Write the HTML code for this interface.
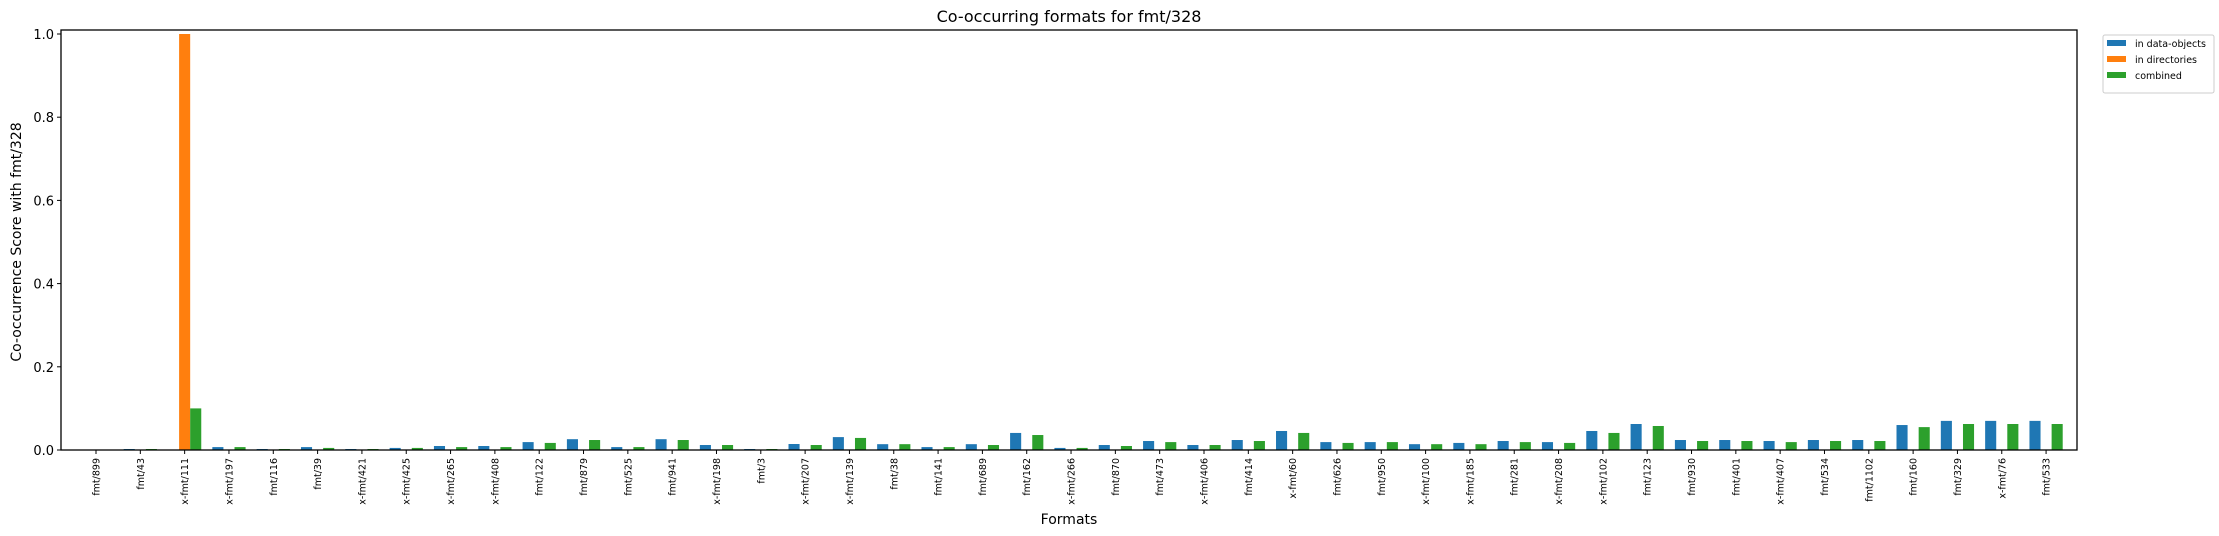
<!DOCTYPE html>
<html><head><meta charset="utf-8"><style>
body{margin:0;background:#fff;}
svg{display:block;font-family:"DejaVu Sans","Liberation Sans",sans-serif;}
</style></head><body>
<svg id="chart" width="2219" height="536" viewBox="0 0 2219 536" xmlns="http://www.w3.org/2000/svg">
<text x="1069" y="22" font-size="16" text-anchor="middle">Co-occurring formats for fmt/328</text>
<g id="bars"></g>
<g id="axes"></g>
<text x="1069" y="524" font-size="14" text-anchor="middle">Formats</text>
<text transform="translate(21,242) rotate(-90)" font-size="14" text-anchor="middle">Co-occurrence Score with fmt/328</text>
<g>
<rect x="2103" y="35" width="111" height="58" fill="#fff" stroke="#ccc" rx="2"/>
<rect x="2107" y="40" width="19" height="6" fill="#1f77b4"/>
<text x="2135" y="47" font-size="9.5">in data-objects</text>
<rect x="2107" y="56" width="19" height="6" fill="#ff7f0e"/>
<text x="2135" y="63" font-size="9.5">in directories</text>
<rect x="2107" y="72" width="19" height="6" fill="#2ca02c"/>
<text x="2135" y="79" font-size="9.5">combined</text>
</g>
</svg>
<script>
const categories=["fmt/899","fmt/43","x-fmt/111","x-fmt/197","fmt/116","fmt/39","x-fmt/421","x-fmt/425","x-fmt/265","x-fmt/408","fmt/122","fmt/879","fmt/525","fmt/941","x-fmt/198","fmt/3","x-fmt/207","x-fmt/139","fmt/38","fmt/141","fmt/689","fmt/162","x-fmt/266","fmt/870","fmt/473","x-fmt/406","fmt/414","x-fmt/60","fmt/626","fmt/950","x-fmt/100","x-fmt/185","fmt/281","x-fmt/208","x-fmt/102","fmt/123","fmt/930","fmt/401","x-fmt/407","fmt/534","fmt/1102","fmt/160","fmt/329","x-fmt/76","fmt/533"];
const dataObjects=[0,0.0024,0,0.007,0.0024,0.007,0.0024,0.005,0.0096,0.0096,0.019,0.026,0.007,0.026,0.012,0.0024,0.0144,0.031,0.014,0.007,0.014,0.041,0.005,0.012,0.0216,0.012,0.024,0.0457,0.019,0.019,0.014,0.017,0.0216,0.019,0.0457,0.0625,0.024,0.024,0.0216,0.024,0.024,0.06,0.07,0.07,0.07];
const directories=[0,0,1.0,0,0,0,0,0,0,0,0,0,0,0,0,0,0,0,0,0,0,0,0,0,0,0,0,0,0,0,0,0,0,0,0,0,0,0,0,0,0,0,0,0,0];
const combined=[0,0.0024,0.1,0.007,0.0024,0.005,0.0024,0.005,0.007,0.007,0.017,0.024,0.007,0.024,0.012,0.0024,0.012,0.029,0.014,0.007,0.012,0.036,0.005,0.0096,0.019,0.012,0.0216,0.041,0.017,0.019,0.014,0.014,0.019,0.017,0.041,0.0577,0.0216,0.0216,0.019,0.0216,0.0216,0.055,0.0625,0.0625,0.0625];
const yTicks=["0.0","0.2","0.4","0.6","0.8","1.0"];

const NS="http://www.w3.org/2000/svg";
const L=61,R=2077,T=30,B=450;
const step=44.32, first=96, bw=step*0.25;
function xPos(i){return first+i*step;}
function yPos(v){return B-v*416;}
function mk(tag,attrs,parent){const e=document.createElementNS(NS,tag);for(const k in attrs)e.setAttribute(k,attrs[k]);parent.appendChild(e);return e;}
const bars=document.getElementById('bars'), axes=document.getElementById('axes');
const series=[[dataObjects,"#1f77b4",-1,"data-objects"],[directories,"#ff7f0e",0,"directories"],[combined,"#2ca02c",1,"combined"]];
series.forEach(([vals,col,off,nm])=>{
  vals.forEach((v,i)=>{
    const x=xPos(i)+off*bw-bw/2, y=yPos(v);
    const r=mk('rect',{x:x,y:y,width:bw,height:B-y,fill:col},bars);
    
    
  });
});
const frame=mk('rect',{x:L,y:T,width:R-L,height:B-T,fill:'none',stroke:'#000','stroke-width':1.3},axes);


yTicks.forEach(t=>{
  const y=yPos(parseFloat(t));
  mk('line',{x1:L-4,x2:L,y1:y,y2:y,stroke:'#000'},axes);
  const tx=mk('text',{x:L-7,y:y+5,'font-size':13,'text-anchor':'end'},axes);
  tx.textContent=t;
  
  
});
categories.forEach((c,i)=>{
  const x=xPos(i);
  mk('line',{x1:x,x2:x,y1:B,y2:B+4,stroke:'#000'},axes);
  const tx=mk('text',{transform:`translate(${x+3.5},458) rotate(-90)`,'font-size':9.5,'text-anchor':'end'},axes);
  tx.textContent=c;
  
  
});
</script>
</body></html>
